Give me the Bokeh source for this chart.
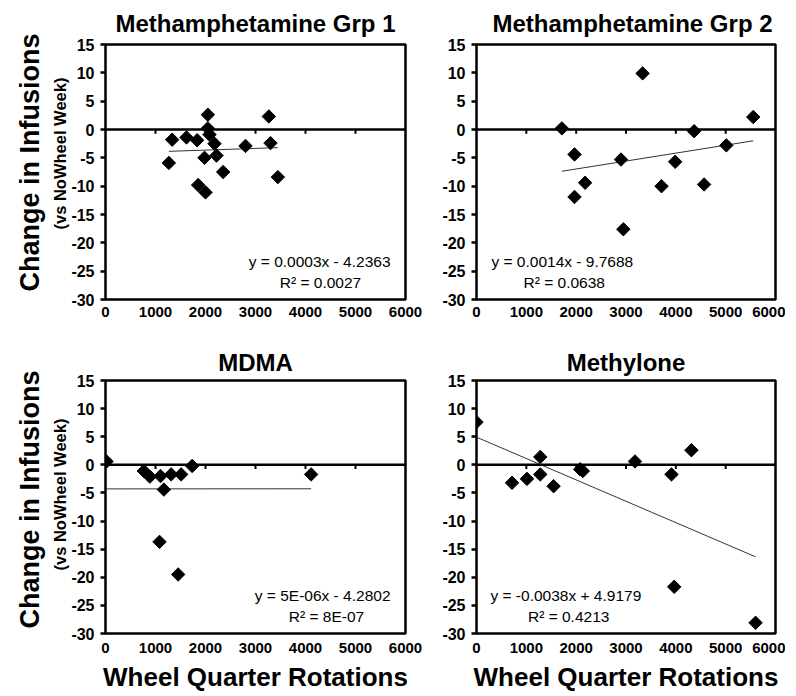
import math
from bokeh.plotting import figure
from bokeh.models import Range1d, FixedTicker, Span, Title, Label, ColumnDataSource
from bokeh.layouts import column, row
from bokeh.embed import file_html
from bokeh.resources import INLINE

FONT = "Liberation Sans"

titles = ["Methamphetamine Grp 1", "Methamphetamine Grp 2", "MDMA", "Methylone"]

meth1_x = [1267, 1333, 1620, 1833, 1853, 2000, 1980, 2047, 2047, 2080, 2180, 2220, 2353, 2800, 3267, 3300, 3447]
meth1_y = [-5.9, -1.8, -1.4, -1.9, -9.8, -11.1, -5.0, 2.6, 0.2, -0.9, -2.5, -4.6, -7.5, -2.9, 2.3, -2.4, -8.4]

meth2_x = [1713, 1967, 1967, 2180, 2900, 2947, 3333, 3713, 3987, 4367, 4567, 5013, 5553]
meth2_y = [0.2, -4.4, -11.9, -9.4, -5.3, -17.6, 9.9, -10.0, -5.7, -0.3, -9.7, -2.8, 2.2]

mdma_x = [20, 767, 887, 1100, 1167, 1080, 1313, 1513, 1453, 1733, 4113]
mdma_y = [0.6, -1.1, -2.1, -2.0, -4.4, -13.7, -1.7, -1.7, -19.5, -0.2, -1.7]

methy_x = [0, 713, 1013, 1280, 1280, 1547, 2080, 2133, 3180, 3913, 3967, 4313, 5600]
methy_y = [7.6, -3.2, -2.5, 1.4, -1.7, -3.8, -0.8, -1.1, 0.6, -1.7, -21.7, 2.6, -28.1]

slopes = [0.0003, 0.0014, 5e-06, -0.0038]
intercepts = [-4.2363, -9.7688, -4.2802, 4.9179]
eq_texts = ["y = 0.0003x - 4.2363", "y = 0.0014x - 9.7688", "y = 5E-06x - 4.2802", "y = -0.0038x + 4.9179"]
r2_texts = ["R\u00b2 = 0.0027", "R\u00b2 = 0.0638", "R\u00b2 = 8E-07", "R\u00b2 = 0.4213"]

x_ticks = [0, 1000, 2000, 3000, 4000, 5000, 6000]
y_ticks = [-30, -25, -20, -15, -10, -5, 0, 5, 10, 15]
y_tick_labels = {t: str(t) for t in y_ticks}
zero_ticks = [1000, 2000, 3000, 4000, 5000]

datasets = [(meth1_x, meth1_y), (meth2_x, meth2_y), (mdma_x, mdma_y), (methy_x, methy_y)]

# label placement (data units) and alignment per panel
eq_pos = [(5700, -23.3, "right"), (300, -23.3, "left"), (5700, -23.3, "right"), (280, -23.3, "left")]
r2_pos = [(4300, -27.0, "center"), (1760, -27.0, "center"), (4420, -27.0, "center"), (1850, -27.0, "center")]
title_align = [("center", 0), ("left", 16), ("center", 0), ("center", 0)]


def make_panel(i, left_col, bottom_row):
    frame_w = 300 if left_col else 299
    frame_h = 255 if not bottom_row else 253
    bl = 105 if left_col else 40
    br = 31 if left_col else 10
    bt = 44 if not bottom_row else 51
    bb = 30 if not bottom_row else 62
    p = figure(frame_width=frame_w, frame_height=frame_h,
               min_border_left=bl, min_border_right=br,
               min_border_top=bt, min_border_bottom=bb,
               x_range=Range1d(0, 6000), y_range=Range1d(-30, 15),
               output_backend="svg", toolbar_location=None, tools="")
    p.title.text = titles[i]
    p.title.text_font = FONT
    p.title.text_font_size = "24px"
    p.title.text_font_style = "bold"
    p.title.text_color = "black"
    p.title.align = title_align[i][0]
    p.title.offset = title_align[i][1]
    if bottom_row:
        p.title.standoff = 10
    else:
        p.title.standoff = 14
        p.title.vertical_align = "middle"
    p.grid.visible = False
    p.outline_line_color = "black"
    p.outline_line_width = 2.5
    p.background_fill_color = "white"
    p.border_fill_color = "white"

    xa = p.xaxis[0]
    ya = p.yaxis[0]
    xa.ticker = FixedTicker(ticks=x_ticks)
    ya.ticker = FixedTicker(ticks=y_ticks)
    ya.major_label_overrides = y_tick_labels
    for ax in (xa, ya):
        ax.axis_line_color = None
        ax.minor_tick_line_color = None
        ax.major_label_text_font = FONT
        ax.major_label_text_font_style = "bold"
        ax.major_label_text_color = "black"
    xa.major_label_text_font_size = "15px"
    ya.major_label_text_font_size = "16px"
    xa.major_tick_line_color = None
    xa.major_tick_out = 0
    xa.major_tick_in = 0
    xa.major_label_standoff = 7 if not bottom_row else 9
    ya.major_tick_in = 0
    ya.major_tick_out = 5
    ya.major_tick_line_width = 2.5
    ya.major_tick_line_color = "black"
    ya.major_label_standoff = 6

    if bottom_row:
        xa.axis_label = "Wheel Quarter Rotations"
        xa.axis_label_text_font = FONT
        xa.axis_label_text_font_size = "26px"
        xa.axis_label_text_font_style = "bold"
        xa.axis_label_text_color = "black"
        xa.axis_label_standoff = 6

    if left_col:
        sub = Title(text="(vs NoWheel Week)", text_font=FONT, text_font_size="16.5px",
                    text_font_style="bold", text_color="black", align="left",
                    standoff=0, offset=70 if not bottom_row else 63)
        p.add_layout(sub, "left")
        main = Title(text="Change in Infusions", text_font=FONT, text_font_size="27px",
                     text_font_style="bold", text_color="black", align="left",
                     standoff=7, offset=8 if not bottom_row else 5)
        p.add_layout(main, "left")

    # zero line with small ticks
    p.add_layout(Span(location=0, dimension="width", line_color="black", line_width=2.5))
    p.segment(x0=zero_ticks, y0=[0] * len(zero_ticks), x1=zero_ticks,
              y1=[-0.75] * len(zero_ticks), line_color="black", line_width=2)

    xs, ys = datasets[i]
    # trend line from equation
    x0, x1 = min(xs), max(xs)
    p.line([x0, x1], [slopes[i] * x0 + intercepts[i], slopes[i] * x1 + intercepts[i]],
           line_color="#333333", line_width=1)
    src = ColumnDataSource(dict(x=xs, y=ys))
    p.scatter("x", "y", source=src, marker="square", angle=math.pi / 4, size=9.5,
              fill_color="black", line_color="black")

    ex, ey, ea = eq_pos[i]
    p.add_layout(Label(x=ex, y=ey, text=eq_texts[i], text_align=ea, text_baseline="middle",
                       text_font=FONT, text_font_size="15.5px", text_color="black"))
    rx, ry, ra = r2_pos[i]
    p.add_layout(Label(x=rx, y=ry, text=r2_texts[i], text_align=ra, text_baseline="middle",
                       text_font=FONT, text_font_size="15.5px", text_color="black"))
    return p


p1 = make_panel(0, True, False)
p2 = make_panel(1, False, False)
p3 = make_panel(2, True, True)
p4 = make_panel(3, False, True)

layout = column(row(p1, p2), row(p3, p4))

with open("out.html", "w") as f:
    f.write(file_html(layout, INLINE))
